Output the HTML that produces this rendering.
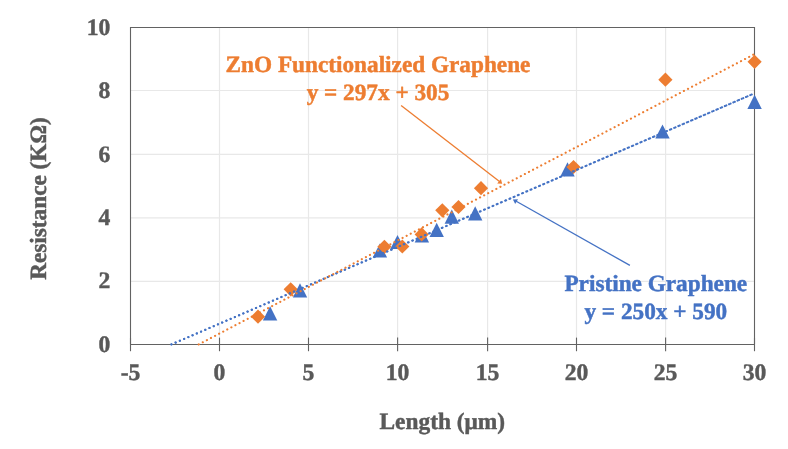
<!DOCTYPE html>
<html><head><meta charset="utf-8">
<style>
html,body{margin:0;padding:0;background:#fff;}
body{width:788px;height:449px;overflow:hidden;position:relative;}
svg{position:absolute;left:0;top:0;will-change:transform;}
text{font-family:"Liberation Serif",serif;font-weight:bold;text-rendering:geometricPrecision;}
</style></head>
<body>
<svg width="788" height="449" viewBox="0 0 788 449">
<rect width="788" height="449" fill="#fff"/>
<!-- gridlines -->
<g stroke="#e8e8e8" stroke-width="1.2">
<line x1="219.5" y1="27.5" x2="219.5" y2="344.4"/>
<line x1="308.5" y1="27.5" x2="308.5" y2="344.4"/>
<line x1="397.6" y1="27.5" x2="397.6" y2="344.4"/>
<line x1="487.6" y1="27.5" x2="487.6" y2="344.4"/>
<line x1="576.5" y1="27.5" x2="576.5" y2="344.4"/>
<line x1="665.6" y1="27.5" x2="665.6" y2="344.4"/>
<line x1="130.5" y1="281.3" x2="754.5" y2="281.3"/>
<line x1="130.5" y1="217.8" x2="754.5" y2="217.8"/>
<line x1="130.5" y1="154.3" x2="754.5" y2="154.3"/>
<line x1="130.5" y1="90.5" x2="754.5" y2="90.5"/>
</g>
<!-- frame -->
<g stroke="#626262" stroke-width="1.1" fill="none">
<polyline points="130.5,344.4 130.5,27.5 754.5,27.5 754.5,344.4"/>
</g>
<!-- x axis -->
<g stroke="#626262" stroke-width="1.1">
<line x1="130.5" y1="344.5" x2="754.5" y2="344.5"/>
<line x1="130.5" y1="337.6" x2="130.5" y2="351.2"/>
<line x1="219.5" y1="337.6" x2="219.5" y2="351.2"/>
<line x1="308.5" y1="337.6" x2="308.5" y2="351.2"/>
<line x1="397.6" y1="337.6" x2="397.6" y2="351.2"/>
<line x1="487.6" y1="337.6" x2="487.6" y2="351.2"/>
<line x1="576.5" y1="337.6" x2="576.5" y2="351.2"/>
<line x1="665.6" y1="337.6" x2="665.6" y2="351.2"/>
<line x1="754.5" y1="337.6" x2="754.5" y2="351.2"/>
</g>
<!-- markers: blue triangles -->
<g fill="#4472c4">
<path id="tri" d="M0,-7.1 L7.2,7.1 L-7.2,7.1 Z" transform="translate(270.1,313.3)"/>
<path d="M0,-7.1 L7.2,7.1 L-7.2,7.1 Z" transform="translate(300.0,290.4)"/>
<path d="M0,-7.1 L7.2,7.1 L-7.2,7.1 Z" transform="translate(379.9,250.5)"/>
<path d="M0,-7.1 L7.2,7.1 L-7.2,7.1 Z" transform="translate(397.5,242.0)"/>
<path d="M0,-7.1 L7.2,7.1 L-7.2,7.1 Z" transform="translate(421.9,235.4)"/>
<path d="M0,-7.1 L7.2,7.1 L-7.2,7.1 Z" transform="translate(436.7,229.8)"/>
<path d="M0,-7.1 L7.2,7.1 L-7.2,7.1 Z" transform="translate(451.8,216.7)"/>
<path d="M0,-7.1 L7.2,7.1 L-7.2,7.1 Z" transform="translate(475.2,213.3)"/>
<path d="M0,-7.1 L7.2,7.1 L-7.2,7.1 Z" transform="translate(567.5,169.4)"/>
<path d="M0,-7.1 L7.2,7.1 L-7.2,7.1 Z" transform="translate(662.5,131.5)"/>
<path d="M0,-7.1 L7.2,7.1 L-7.2,7.1 Z" transform="translate(754.6,101.9)"/>
</g>
<!-- markers: orange diamonds -->
<g fill="#ed7d31">
<path d="M0,-7.1 L7.1,0 L0,7.1 L-7.1,0 Z" transform="translate(258.0,316.7)"/>
<path d="M0,-7.1 L7.1,0 L0,7.1 L-7.1,0 Z" transform="translate(290.7,289.3)"/>
<path d="M0,-7.1 L7.1,0 L0,7.1 L-7.1,0 Z" transform="translate(384.4,246.8)"/>
<path d="M0,-7.1 L7.1,0 L0,7.1 L-7.1,0 Z" transform="translate(402.3,246.5)"/>
<path d="M0,-7.1 L7.1,0 L0,7.1 L-7.1,0 Z" transform="translate(421.7,234.4)"/>
<path d="M0,-7.1 L7.1,0 L0,7.1 L-7.1,0 Z" transform="translate(442.3,210.3)"/>
<path d="M0,-7.1 L7.1,0 L0,7.1 L-7.1,0 Z" transform="translate(458.5,207.0)"/>
<path d="M0,-7.1 L7.1,0 L0,7.1 L-7.1,0 Z" transform="translate(481.0,188.2)"/>
<path d="M0,-7.1 L7.1,0 L0,7.1 L-7.1,0 Z" transform="translate(573.5,167.0)"/>
<path d="M0,-7.1 L7.1,0 L0,7.1 L-7.1,0 Z" transform="translate(665.4,79.7)"/>
<path d="M0,-7.1 L7.1,0 L0,7.1 L-7.1,0 Z" transform="translate(754.6,61.8)"/>
</g>
<!-- trendlines -->
<line x1="171.4" y1="344.4" x2="754.3" y2="93.4" stroke="#4472c4" stroke-width="2.1" stroke-dasharray="0.1 4.5" stroke-linecap="round"/>
<line x1="171.4" y1="344.4" x2="754.3" y2="93.4" stroke="#4472c4" stroke-width="2.1" stroke-dasharray="0.1 4.5116" stroke-linecap="round"/>
<line x1="198.7" y1="344.4" x2="754.3" y2="54.2" stroke="#ed7d31" stroke-width="2.1" stroke-dasharray="0.1 4.5" stroke-linecap="round"/>
<!-- arrows -->
<line x1="401.1" y1="105.5" x2="499.5" y2="181.6" stroke="#ed7d31" stroke-width="1.3"/>
<path d="M502.2,183.7 L497.2,183.6 L500.9,178.9 Z" fill="#ed7d31"/>
<line x1="629.9" y1="265.4" x2="515.8" y2="201.0" stroke="#4472c4" stroke-width="1.3"/>
<path d="M512.9,199.4 L515.2,204.1 L518.0,199.2 Z" fill="#4472c4"/>
<!-- tick labels -->
<g fill="#595959" stroke="#595959" stroke-width="0.45" font-size="23.6" text-anchor="end">
<text x="110.3" y="35">10</text>
<text x="110.3" y="98.3">8</text>
<text x="110.3" y="161.7">6</text>
<text x="110.3" y="225.0">4</text>
<text x="110.3" y="288.4">2</text>
<text x="110.3" y="351.8">0</text>
</g>
<g fill="#595959" stroke="#595959" stroke-width="0.45" font-size="23.6" text-anchor="middle">
<text x="130.5" y="379.6">-5</text>
<text x="219.5" y="379.6">0</text>
<text x="308.5" y="379.6">5</text>
<text x="397.6" y="379.6">10</text>
<text x="487.6" y="379.6">15</text>
<text x="576.5" y="379.6">20</text>
<text x="665.6" y="379.6">25</text>
<text x="754.5" y="379.6">30</text>
</g>
<!-- axis titles -->
<text x="442.3" y="429.3" fill="#595959" stroke="#595959" stroke-width="0.45" font-size="23.4" text-anchor="middle">Length (μm)</text>
<text transform="translate(45.9,198.5) rotate(-90)" fill="#595959" stroke="#595959" stroke-width="0.45" font-size="23.25" text-anchor="middle">Resistance (KΩ)</text>
<!-- annotations -->
<g fill="#ed7d31" stroke="#ed7d31" stroke-width="0.45" font-size="23.25" text-anchor="middle">
<text x="378" y="71.7">ZnO Functionalized Graphene</text>
<text x="378" y="100.1">y = 297x + 305</text>
</g>
<g fill="#4472c4" stroke="#4472c4" stroke-width="0.45" font-size="23.25" text-anchor="middle">
<text x="655.8" y="290.8">Pristine Graphene</text>
<text x="655.8" y="319.2">y = 250x + 590</text>
</g>
</svg>
</body></html>
